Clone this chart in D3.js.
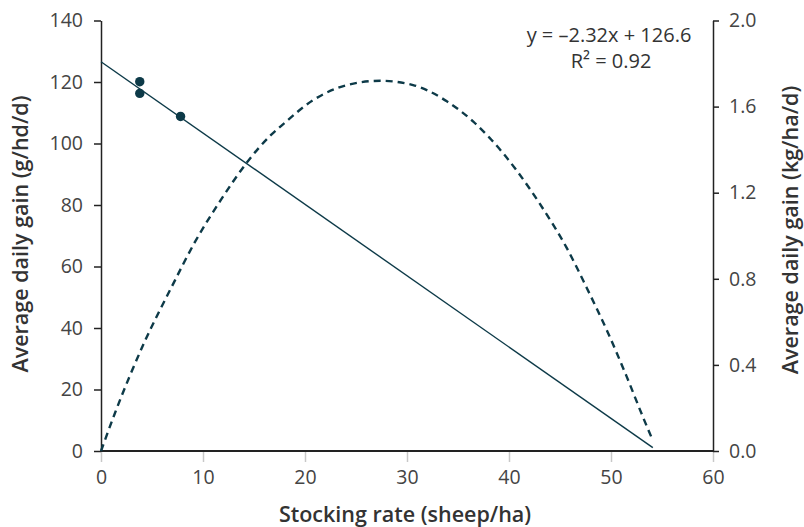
<!DOCTYPE html>
<html>
<head>
<meta charset="utf-8">
<script src="https://cdn.jsdelivr.net/npm/d3@7"></script>
<style>
  html, body { margin: 0; padding: 0; background: #fff; }
  svg { display: block; font-family: "Open Sans", "Noto Sans", sans-serif; }
</style>
</head>
<body>
<svg id="chart" width="804" height="527"></svg>
<script>
// ---- data ----
const xTicks = [0, 10, 20, 30, 40, 50, 60];
const leftTicks = [0, 20, 40, 60, 80, 100, 120, 140];
const rightTicks = [0, 0.4, 0.8, 1.2, 1.6, 2.0];

// observed points (stocking rate, ADG g/hd/d)
const obsX = [3.8, 3.8, 7.8];
const obsY = [120.1, 116.3, 108.8];

// fitted regression line endpoints
const fitX = [0, 54.1];
const fitY = [126.6, 1.1];

// gain per hectare (kg/ha/d) curve
const haX = [0, 1.4, 4.3, 6.9, 9.2, 11.8, 14.3, 16.7, 17.9, 20.8, 24.1, 27.4, 30.6, 33.9, 36.5, 38.1, 40.8, 43.0, 45.7, 47.6, 49.6, 51.5, 53.2, 54.0];
const haY = [0, 0.18, 0.51, 0.76, 0.97, 1.17, 1.34, 1.47, 1.52, 1.63, 1.70, 1.72, 1.70, 1.625, 1.53, 1.455, 1.30, 1.15, 0.94, 0.76, 0.56, 0.35, 0.15, 0.06];

const eqLine1 = "y = \u20132.32x + 126.6";
const eqLine2 = "R\u00B2 = 0.92";

// ---- layout ----
const svg = d3.select("#chart");
const L = 101, R = 713, T = 20.5, B = 451;
const markColor = "#0d3a48";
const tickFont = "19.5px";
const titleFont = "21.5px";

const x = d3.scaleLinear().domain([0, 60]).range([L, R]);
const yL = d3.scaleLinear().domain([0, 140]).range([B, T]);
const yR = d3.scaleLinear().domain([0, 2.0]).range([B, T]);

// x axis
const gx = svg.append("g").attr("transform", `translate(0,${B})`)
  .call(d3.axisBottom(x).tickValues(xTicks).tickSize(11).tickPadding(8).tickFormat(d3.format("d")));
gx.select(".domain").remove();
gx.selectAll(".tick line").attr("stroke", "#c8c8c8").attr("stroke-width", 1.5);
gx.selectAll(".tick text").attr("fill", "#444").style("font-size", tickFont).style("font-family", "Open Sans");

// left axis
const gl = svg.append("g").attr("transform", `translate(${L},0)`)
  .call(d3.axisLeft(yL).tickValues(leftTicks).tickSize(7).tickSizeOuter(0).tickPadding(11).tickFormat(d3.format("d")));
gl.select(".domain").attr("stroke", "#222").attr("stroke-width", 1.5);
gl.selectAll(".tick line").attr("stroke", "#222").attr("stroke-width", 1.5);
gl.selectAll(".tick text").attr("fill", "#444").style("font-size", tickFont).style("font-family", "Open Sans");

// right axis
const gr = svg.append("g").attr("transform", `translate(${R},0)`)
  .call(d3.axisRight(yR).tickValues(rightTicks).tickSize(6).tickSizeOuter(0).tickPadding(10).tickFormat(d3.format(".1f")));
gr.select(".domain").attr("stroke", "#222").attr("stroke-width", 1.5);
gr.selectAll(".tick line").attr("stroke", "#222").attr("stroke-width", 1.5);
gr.selectAll(".tick text").attr("fill", "#444").style("font-size", tickFont).style("font-family", "Open Sans");

// bottom axis line
svg.append("line").attr("x1", L - 0.75).attr("x2", R + 0.75).attr("y1", B).attr("y2", B)
  .attr("stroke", "#222").attr("stroke-width", 2);

// regression line
svg.append("path")
  .datum(fitX.map((d, i) => [d, fitY[i]]))
  .attr("fill", "none").attr("stroke", markColor).attr("stroke-width", 1.4)
  .attr("d", d3.line().x(d => x(d[0])).y(d => yL(d[1])));

// per-ha curve
svg.append("path")
  .datum(haX.map((d, i) => [d, haY[i]]))
  .attr("fill", "none").attr("stroke", markColor).attr("stroke-width", 2.4)
  .attr("stroke-dasharray", "7,5")
  .attr("d", d3.line().curve(d3.curveMonotoneX).x(d => x(d[0])).y(d => yR(d[1])));

// points
svg.selectAll("circle.obs").data(obsX.map((d, i) => [d, obsY[i]]))
  .join("circle").attr("class", "obs")
  .attr("cx", d => x(d[0])).attr("cy", d => yL(d[1])).attr("r", 4.7)
  .attr("fill", markColor);

// equation
svg.append("text").attr("x", 609).attr("y", 42).attr("text-anchor", "middle")
  .attr("fill", "#333").style("font-size", "20px").text(eqLine1);
svg.append("text").attr("x", 611).attr("y", 68).attr("text-anchor", "middle")
  .attr("fill", "#333").style("font-size", "20px").text(eqLine2);

// axis titles
svg.append("text").attr("x", 405).attr("y", 522).attr("text-anchor", "middle")
  .attr("fill", "#333").style("font-size", titleFont).style("font-weight", 600)
  .text("Stocking rate (sheep/ha)");
svg.append("text").attr("transform", `translate(28,${234}) rotate(-90)`).attr("text-anchor", "middle")
  .attr("fill", "#333").style("font-size", titleFont).style("font-weight", 600)
  .text("Average daily gain (g/hd/d)");
svg.append("text").attr("transform", `translate(798,${230}) rotate(-90)`).attr("text-anchor", "middle")
  .attr("fill", "#333").style("font-size", titleFont).style("font-weight", 600)
  .text("Average daily gain (kg/ha/d)");
</script>
</body>
</html>
